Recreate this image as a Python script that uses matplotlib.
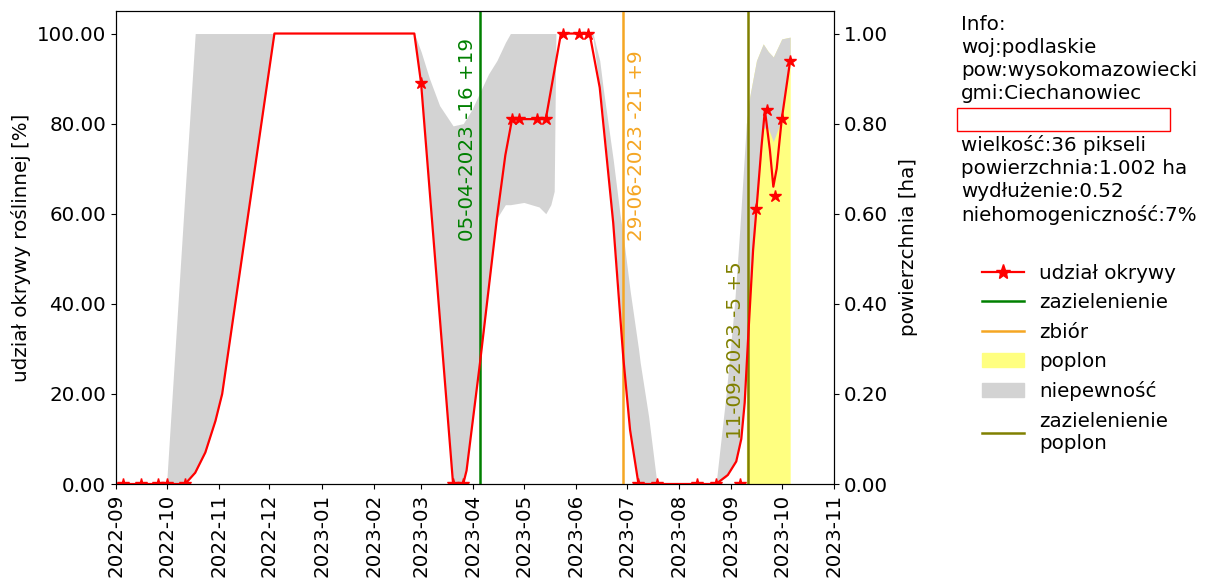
import matplotlib
matplotlib.use("Agg")
import matplotlib.pyplot as plt
import matplotlib.dates as mdates
import matplotlib.patches as mpatches
from matplotlib.lines import Line2D
import numpy as np
import pandas as pd

# ---- data ----
line_dates = ["2022-09-02", "2022-09-05", "2022-09-16", "2022-09-26", "2022-10-01", "2022-10-12",
              "2022-10-18", "2022-10-24", "2022-10-30", "2022-11-03", "2022-12-04", "2023-02-25",
              "2023-03-01", "2023-03-20", "2023-03-26", "2023-03-28", "2023-03-31", "2023-04-05",
              "2023-04-10", "2023-04-15", "2023-04-20", "2023-04-24", "2023-05-14", "2023-05-23",
              "2023-06-09", "2023-06-15", "2023-06-23", "2023-06-29", "2023-07-03", "2023-07-08",
              "2023-08-23", "2023-08-30", "2023-09-04", "2023-09-07", "2023-09-09", "2023-09-11",
              "2023-09-14", "2023-09-16", "2023-09-19", "2023-09-21", "2023-09-24", "2023-09-26",
              "2023-09-28", "2023-10-01", "2023-10-06"]
line_values = [0, 0, 0, 0, 0, 0,
               2.5, 7, 14, 20, 100, 100,
               89, 0, 0, 3, 12, 27,
               43, 59, 73, 81, 81, 100,
               100, 88, 58, 28, 12, 0,
               0, 2, 5, 10, 18, 32,
               52, 61, 75, 83, 74, 66,
               70, 81, 94]

obs_dates = ["2022-09-05", "2022-09-16", "2022-09-26", "2022-10-01", "2022-10-12", "2023-03-01",
             "2023-03-20", "2023-03-26", "2023-04-24", "2023-04-28", "2023-05-09", "2023-05-14",
             "2023-05-24", "2023-06-03", "2023-06-08", "2023-07-08", "2023-07-19", "2023-08-12",
             "2023-08-23", "2023-09-06", "2023-09-16", "2023-09-22", "2023-09-27", "2023-10-01",
             "2023-10-06"]
obs_values = [0, 0, 0, 0, 0, 89,
              0, 0, 81, 81, 81, 81,
              100, 100, 100, 0, 0, 0,
              0, 0, 61, 83, 64, 81,
              94]

band_dates = ["2022-09-01", "2022-10-01", "2022-10-12", "2022-10-18", "2022-10-24", "2022-10-30",
              "2022-11-03", "2022-12-04", "2023-02-25", "2023-03-01", "2023-03-06", "2023-03-12",
              "2023-03-20", "2023-03-26", "2023-03-31", "2023-04-05", "2023-04-10", "2023-04-15",
              "2023-04-20", "2023-04-23", "2023-05-01", "2023-05-10", "2023-05-14", "2023-05-17",
              "2023-05-19", "2023-05-20", "2023-06-09", "2023-06-11", "2023-06-15", "2023-06-17",
              "2023-06-23", "2023-06-27", "2023-06-29", "2023-07-03", "2023-07-08", "2023-07-09",
              "2023-07-14", "2023-07-19", "2023-08-23", "2023-08-29", "2023-09-03", "2023-09-06",
              "2023-09-09", "2023-09-10", "2023-09-12", "2023-09-16", "2023-09-20", "2023-09-23",
              "2023-09-26", "2023-10-01", "2023-10-06"]
band_lo = [0, 0, 0, 2.5, 7, 14,
           20, 100, 100, 89, 66, 37,
           0, 0, 12, 27, 43, 59,
           62, 62, 62.5, 61.5, 60, 62,
           65, 100, 100, 99, 88, 82,
           58, 40, 28, 12, 0, 0,
           0, 0, 0, 1.5, 4.5, 8,
           18, 24, 40, 61, 79, 79,
           76, 81, 94]
band_hi = [0, 0, 65, 100, 100, 100,
           100, 100, 100, 96, 90, 84,
           79.5, 80, 83, 87, 91, 94,
           98, 100, 100, 100, 100, 100,
           100, 100, 100, 100, 94, 88,
           72, 60, 55, 43, 30, 27,
           15, 0, 0, 20, 40, 56,
           74, 80, 86, 94, 97.7, 96,
           94.8, 98.8, 99.2]

event_dates = ["2023-04-05", "2023-06-29", "2023-09-11"]
event_labels = ["05-04-2023 -16 +19", "29-06-2023 -21 +9", "11-09-2023 -5 +5"]
event_names = ["zazielenienie", "zbiór", "zazielenienie\npoplon"]
poplon_window = ["2023-09-10", "2023-10-06"]

info_top = ["Info:", "woj:podlaskie", "pow:wysokomazowiecki", "gmi:Ciechanowiec"]
info_bottom = ["wielkość:36 pikseli", "powierzchnia:1.002 ha", "wydłużenie:0.52",
               "niehomogeniczność:7%"]

left_ticks = [0, 20, 40, 60, 80, 100]

# ---- plot ----
plt.rcParams['font.family'] = ['DejaVu Sans']
FS = 14.3
fig = plt.figure(figsize=(12.11, 5.81), dpi=100)
ax = fig.add_axes([116 / 1211, 1 - 484 / 581, 718 / 1211, 473 / 581])

ld = pd.to_datetime(line_dates)
od = pd.to_datetime(obs_dates)
bd = pd.to_datetime(band_dates)
lo = np.array(band_lo, dtype=float)
hi = np.array(band_hi, dtype=float)

p0, p1 = pd.to_datetime(poplon_window)
in_win = (bd >= p0) & (bd <= p1)
ax.fill_between(bd, 0, hi, where=in_win, color='#ffff80', linewidth=0, zorder=1)
ax.fill_between(bd, lo, hi, color='#d3d3d3', linewidth=0, zorder=2)

ax.plot(ld, line_values, color='red', lw=1.6, zorder=5)
ax.plot(od, obs_values, linestyle='none', marker='*', color='red', markersize=9, zorder=6)

ev_colors = ['green', '#f5a623', '#808000']
ev_text_y = [54, 54, 10]
ev_side = ['right', 'left', 'right']
for d, lab, c, ty, side in zip(pd.to_datetime(event_dates), event_labels, ev_colors,
                               ev_text_y, ev_side):
    ax.axvline(d, color=c, lw=1.8, zorder=4)
    off = pd.Timedelta(days=2) if side == 'left' else -pd.Timedelta(days=2)
    ax.text(d + off, ty, lab, rotation=90, color=c, fontsize=FS,
            ha=side, va='bottom', zorder=7)

ax.set_xlim(pd.Timestamp("2022-09-01"), pd.Timestamp("2023-11-01"))
ax.set_ylim(0, 105)
ax.set_yticks(left_ticks)
ax.yaxis.set_major_formatter(matplotlib.ticker.FormatStrFormatter('%.2f'))
ax.xaxis.set_major_locator(mdates.MonthLocator())
ax.xaxis.set_major_formatter(mdates.DateFormatter('%Y-%m'))
ax.tick_params(axis='x', labelrotation=90, labelsize=FS)
ax.tick_params(axis='y', labelsize=FS)
ax.set_ylabel("udział okrywy roślinnej [%]", fontsize=FS)

ax2 = ax.twinx()
ax2.set_ylim(0, 1.05)
ax2.set_yticks([v / 100 for v in left_ticks])
ax2.yaxis.set_major_formatter(matplotlib.ticker.FormatStrFormatter('%.2f'))
ax2.tick_params(axis='y', labelsize=FS)
ax2.set_ylabel("powierzchnia [ha]", fontsize=FS, labelpad=8)

# info text
fig.text(961 / 1211, 1 - 15 / 581, "\n".join(info_top), fontsize=FS, va='top', ha='left',
         linespacing=1.26)
fig.text(961 / 1211, 1 - 135 / 581, "\n".join(info_bottom), fontsize=FS, va='top', ha='left',
         linespacing=1.26)
fig.patches.append(mpatches.Rectangle((957 / 1211, 1 - 131 / 581), 213 / 1211, 23 / 581,
                                      transform=fig.transFigure, fill=False, edgecolor='red',
                                      lw=1.0))

handles = [Line2D([], [], color='red', marker='*', markersize=11, lw=1.6),
           Line2D([], [], color=ev_colors[0], lw=1.8),
           Line2D([], [], color=ev_colors[1], lw=1.8),
           mpatches.Patch(color='#ffff80'),
           mpatches.Patch(color='#d3d3d3'),
           Line2D([], [], color=ev_colors[2], lw=1.8)]
labels = ["udział okrywy", event_names[0], event_names[1], "poplon", "niepewność", event_names[2]]
fig.legend(handles, labels, loc='upper left', bbox_to_anchor=(964 / 1211, 1 - 246 / 581),
           frameon=False, fontsize=FS, handlelength=2.1, handletextpad=0.8, labelspacing=0.52)

fig.savefig("out.png", dpi=100)
